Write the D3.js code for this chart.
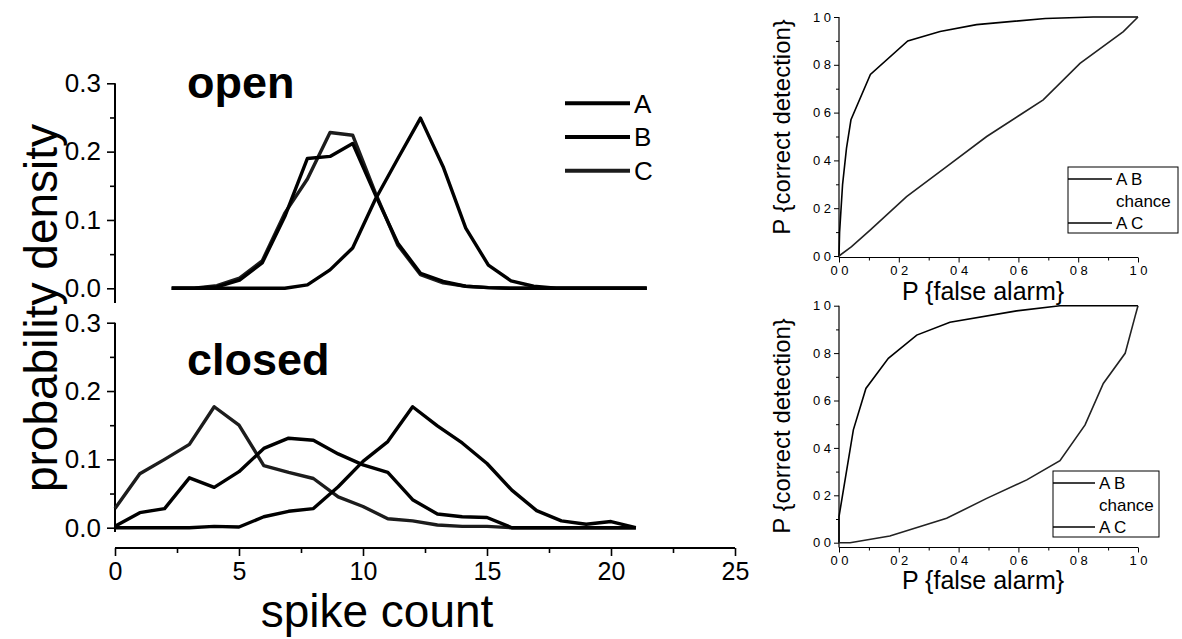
<!DOCTYPE html>
<html>
<head>
<meta charset="utf-8">
<script src="https://cdn.jsdelivr.net/npm/d3@7"></script>
<style>
  body { margin: 0; background: #fff; }
  svg { display: block; }
  text { font-family: "Liberation Sans", Arial, Helvetica, sans-serif; fill: #000; }
</style>
</head>
<body>
<div id="chart"></div>
<script>
// spike count histograms (probability density per count)
const spikeCounts = [0, 1, 2, 3, 4, 5, 6, 7, 8, 9, 10, 11, 12, 13, 14, 15, 16, 17, 18, 19, 20, 21];
const openA   = [0, 0, 0.002, 0.012, 0.037, 0.105, 0.190, 0.193, 0.212, 0.137, 0.066, 0.022, 0.010, 0.003, 0.001, 0, 0, 0, 0, 0, 0, 0];
const openB   = [0, 0, 0, 0, 0, 0, 0.005, 0.027, 0.059, 0.130, 0.190, 0.249, 0.178, 0.088, 0.034, 0.011, 0.003, 0, 0, 0, 0, 0];
const openC   = [0, 0, 0.004, 0.015, 0.040, 0.110, 0.160, 0.228, 0.224, 0.140, 0.063, 0.020, 0.008, 0.003, 0.001, 0, 0, 0, 0, 0, 0, 0];
const closedA = [0.002, 0.022, 0.028, 0.073, 0.059, 0.082, 0.116, 0.131, 0.128, 0.108, 0.092, 0.081, 0.041, 0.020, 0.016, 0.015, 0, 0, 0, 0, 0, 0];
const closedB = [0, 0, 0, 0, 0.002, 0.001, 0.016, 0.024, 0.028, 0.060, 0.097, 0.126, 0.177, 0.149, 0.124, 0.094, 0.055, 0.025, 0.010, 0.005, 0.009, 0];
const closedC = [0.028, 0.079, 0.100, 0.122, 0.177, 0.150, 0.091, 0.081, 0.072, 0.045, 0.031, 0.013, 0.010, 0.004, 0.002, 0.002, 0, 0, 0, 0, 0, 0];
const densityTicks = [0, 0.1, 0.2, 0.3];
const spikeTicks = [0, 5, 10, 15, 20, 25];
const seriesNames = ["A", "B", "C"];

// ROC curves: false alarm (x) vs correct detection (y)
const openAB_fa  = [0, 0.002, 0.012, 0.025, 0.04, 0.105, 0.23, 0.338, 0.46, 0.69, 0.85, 1];
const openAB_cd  = [0, 0.10, 0.30, 0.45, 0.57, 0.76, 0.90, 0.939, 0.968, 0.994, 1.0, 1];
const openAC_fa  = [0, 0.042, 0.105, 0.226, 0.36, 0.494, 0.605, 0.683, 0.806, 0.951, 1];
const openAC_cd  = [0, 0.039, 0.109, 0.248, 0.374, 0.50, 0.59, 0.653, 0.806, 0.939, 1];
const closedAB_fa = [0, 0, 0.048, 0.09, 0.165, 0.26, 0.371, 0.594, 0.739, 1];
const closedAB_cd = [0, 0.11, 0.476, 0.651, 0.778, 0.876, 0.93, 0.978, 1, 1];
const closedAC_fa = [0, 0.037, 0.17, 0.36, 0.494, 0.628, 0.739, 0.823, 0.884, 0.957, 0.99, 1];
const closedAC_cd = [0, 0, 0.028, 0.103, 0.187, 0.265, 0.346, 0.497, 0.672, 0.799, 0.954, 1];
const rocTicks = [0, 0.2, 0.4, 0.6, 0.8, 1.0];
const rocTickLabels = ["0 0", "0 2", "0 4", "0 6", "0 8", "1 0"];
const rocLegend = ["A B", "chance", "A C"];

const svg = d3.select("#chart").append("svg")
    .attr("width", 1182)
    .attr("height", 639);

// ---------- left: histograms ----------
const xOpen = d3.scaleLinear().domain([0, 21]).range([171.7, 646.7]);
const xSpike = d3.scaleLinear().domain([0, 25]).range([115, 735]);
const yOpen = d3.scaleLinear().domain([0, 0.3]).range([288.3, 83.3]);
const yClosed = d3.scaleLinear().domain([0, 0.3]).range([527.7, 322.7]);

function densityAxis(y, bottom) {
    const g = svg.append("g").attr("transform", "translate(115,0)");
    g.call(d3.axisLeft(y).tickValues(densityTicks).tickFormat(d3.format(".1f")).tickSize(8).tickPadding(6).tickSizeOuter(0));
    g.select(".domain").remove();
    g.selectAll("line").attr("stroke-width", 1.6);
    g.selectAll("text").style("font-size", "26px").attr("fill", "#000");
    const m = svg.append("g").attr("transform", "translate(115,0)");
    m.call(d3.axisLeft(y).tickValues([0.05, 0.15, 0.25]).tickSize(5).tickFormat(""));
    m.select(".domain").remove();
    m.selectAll("line").attr("stroke-width", 1.6);
    svg.append("line")
        .attr("x1", 115).attr("x2", 115)
        .attr("y1", y(0.3)).attr("y2", bottom)
        .attr("stroke", "#000").attr("stroke-width", 2);
}
densityAxis(yOpen, 303);
densityAxis(yClosed, 532);

// x axis under the closed panel
const xg = svg.append("g").attr("transform", "translate(0,548)");
xg.call(d3.axisBottom(xSpike).tickValues(spikeTicks).tickSize(8).tickPadding(6).tickSizeOuter(0));
xg.select(".domain").remove();
xg.selectAll("line").attr("stroke-width", 1.6);
xg.selectAll("text").style("font-size", "25px").attr("fill", "#000");
const xm = svg.append("g").attr("transform", "translate(0,548)");
xm.call(d3.axisBottom(xSpike).tickValues([2.5, 7.5, 12.5, 17.5, 22.5]).tickSize(5).tickFormat(""));
xm.select(".domain").remove();
xm.selectAll("line").attr("stroke-width", 1.6);
svg.append("line")
    .attr("x1", xSpike(0)).attr("x2", xSpike(25))
    .attr("y1", 548).attr("y2", 548)
    .attr("stroke", "#000").attr("stroke-width", 2);

const seriesColor = { A: "#000", B: "#000", C: "#1c1c1c" };

function drawHist(x, y, values, name) {
    const line = d3.line()
        .x((d, i) => x(spikeCounts[i]))
        .y(d => y(d));
    svg.append("path")
        .datum(values)
        .attr("d", line)
        .attr("fill", "none")
        .attr("stroke", seriesColor[name])
        .attr("stroke-width", 3.4)
        .attr("stroke-linejoin", "round");
}
drawHist(xOpen, yOpen, openC, "C");
drawHist(xOpen, yOpen, openA, "A");
drawHist(xOpen, yOpen, openB, "B");
drawHist(xSpike, yClosed, closedC, "C");
drawHist(xSpike, yClosed, closedA, "A");
drawHist(xSpike, yClosed, closedB, "B");

// legend for histograms
const legY = d3.scalePoint().domain(seriesNames).range([103.3, 170.7]);
const leg = svg.append("g");
leg.selectAll("line").data(seriesNames).enter().append("line")
    .attr("x1", 565).attr("x2", 630)
    .attr("y1", d => legY(d)).attr("y2", d => legY(d))
    .attr("stroke", d => seriesColor[d])
    .attr("stroke-width", 4);
leg.selectAll("text").data(seriesNames).enter().append("text")
    .attr("x", 634).attr("y", d => legY(d)).attr("dy", "0.36em")
    .style("font-size", "26px")
    .text(d => d);

svg.append("text").attr("x", 187).attr("y", 98)
    .style("font-size", "45px").style("font-weight", "bold").text("open");
svg.append("text").attr("x", 187).attr("y", 375)
    .style("font-size", "45px").style("font-weight", "bold").text("closed");

svg.append("text")
    .attr("transform", "translate(57,308) rotate(-90)")
    .attr("text-anchor", "middle")
    .style("font-size", "46px")
    .text("probability density");
svg.append("text")
    .attr("x", 377).attr("y", 627)
    .attr("text-anchor", "middle")
    .style("font-size", "46px")
    .text("spike count");

// ---------- right: ROC panels ----------
function rocPanel(cfg) {
    const x = d3.scaleLinear().domain([0, 1]).range([839, 1138]);
    const y = d3.scaleLinear().domain([0, 1]).range(cfg.yRange);

    const ya = svg.append("g").attr("transform", "translate(839,0)");
    ya.call(d3.axisLeft(y).tickValues(rocTicks).tickFormat((d, i) => rocTickLabels[i]).tickSize(5).tickPadding(3).tickSizeOuter(0));
    ya.select(".domain").remove();
    ya.selectAll("text").style("font-size", "13px").attr("fill", "#000");
    const yam = svg.append("g").attr("transform", "translate(839,0)");
    yam.call(d3.axisLeft(y).tickValues([0.1, 0.3, 0.5, 0.7, 0.9]).tickSize(3).tickFormat(""));
    yam.select(".domain").remove();

    const xa = svg.append("g").attr("transform", `translate(0,${cfg.axisY})`);
    xa.call(d3.axisBottom(x).tickValues(rocTicks).tickFormat((d, i) => rocTickLabels[i]).tickSize(5).tickPadding(3).tickSizeOuter(0));
    xa.select(".domain").remove();
    xa.selectAll("text").style("font-size", "13px").attr("fill", "#000");
    const xam = svg.append("g").attr("transform", `translate(0,${cfg.axisY})`);
    xam.call(d3.axisBottom(x).tickValues([0.1, 0.3, 0.5, 0.7, 0.9]).tickSize(3).tickFormat(""));
    xam.select(".domain").remove();

    svg.append("line").attr("x1", 839).attr("x2", 839)
        .attr("y1", y(1)).attr("y2", cfg.axisY)
        .attr("stroke", "#000").attr("stroke-width", 1.2);
    svg.append("line").attr("x1", 839).attr("x2", 1138)
        .attr("y1", cfg.axisY).attr("y2", cfg.axisY)
        .attr("stroke", "#000").attr("stroke-width", 1.2);

    const line = d3.line().x(d => x(d[0])).y(d => y(d[1]));
    svg.append("path")
        .datum(d3.zip(cfg.abX, cfg.abY))
        .attr("d", line).attr("fill", "none")
        .attr("stroke", "#000").attr("stroke-width", 1.6);
    svg.append("path")
        .datum(d3.zip(cfg.acX, cfg.acY))
        .attr("d", line).attr("fill", "none")
        .attr("stroke", "#222").attr("stroke-width", 1.6);

    // legend box
    const lg = svg.append("g");
    lg.append("rect")
        .attr("x", cfg.leg.x).attr("y", cfg.leg.y)
        .attr("width", cfg.leg.w).attr("height", cfg.leg.h)
        .attr("fill", "#fff").attr("stroke", "#000").attr("stroke-width", 1);
    const rowY = d3.scalePoint().domain(rocLegend).range([cfg.leg.y + 12, cfg.leg.y + cfg.leg.h - 10]);
    lg.selectAll("line").data(["A B", "A C"]).enter().append("line")
        .attr("x1", cfg.leg.x).attr("x2", cfg.leg.x + cfg.leg.line)
        .attr("y1", d => rowY(d)).attr("y2", d => rowY(d))
        .attr("stroke", "#000").attr("stroke-width", 1.3);
    lg.selectAll("text").data(rocLegend).enter().append("text")
        .attr("x", cfg.leg.x + cfg.leg.line + 4)
        .attr("y", d => rowY(d)).attr("dy", "0.36em")
        .style("font-size", "17px")
        .text(d => d);

    svg.append("text")
        .attr("transform", `translate(790,${cfg.labelY}) rotate(-90)`)
        .attr("text-anchor", "middle")
        .style("font-size", "24px")
        .text("P {correct detection}");
    svg.append("text")
        .attr("x", 983).attr("y", cfg.xLabelY)
        .attr("text-anchor", "middle")
        .style("font-size", "25px")
        .text("P {false alarm}");
}

rocPanel({
    yRange: [256, 17], axisY: 257.5, labelY: 127, xLabelY: 300,
    abX: openAB_fa, abY: openAB_cd, acX: openAC_fa, acY: openAC_cd,
    leg: { x: 1068, y: 167, w: 110, h: 66, line: 44 }
});
rocPanel({
    yRange: [542.7, 305.7], axisY: 547.5, labelY: 426, xLabelY: 589,
    abX: closedAB_fa, abY: closedAB_cd, acX: closedAC_fa, acY: closedAC_cd,
    leg: { x: 1053, y: 471, w: 106, h: 66, line: 42 }
});
</script>
</body>
</html>
